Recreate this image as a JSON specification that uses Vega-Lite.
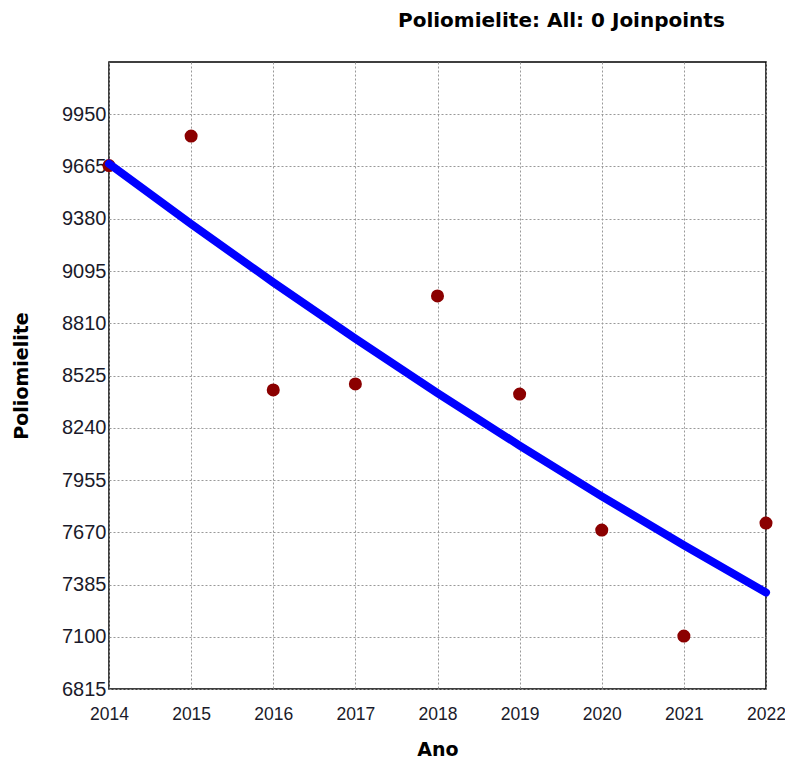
{
  "$schema": "https://vega.github.io/schema/vega-lite/v6.json",
  "autosize": "none",
  "width": 657,
  "height": 627,
  "padding": {"left": 109, "top": 62, "right": 19, "bottom": 73},
  "background": "white",
  "title": {
    "text": "Poliomielite: All: 0 Joinpoints",
    "font": "DejaVu Sans",
    "fontSize": 20,
    "fontWeight": "bold",
    "color": "#000000",
    "anchor": "start",
    "frame": "group",
    "dx": 289,
    "offset": 31
  },
  "config": {
    "view": {"stroke": "#000000", "strokeWidth": 1.5},
    "axis": {
      "labelFont": "Liberation Sans",
      "labelColor": "#1a1a2a",
      "titleFont": "DejaVu Sans",
      "titleFontSize": 19,
      "titleFontWeight": "bold",
      "titleColor": "#000000",
      "grid": true,
      "gridColor": "#999999",
      "gridDash": [2, 2],
      "gridWidth": 1,
      "domain": false,
      "ticks": false
    }
  },
  "datasets": {
    "obs": [
      {"ano": 2014, "valor": 9670},
      {"ano": 2015, "valor": 9831},
      {"ano": 2016, "valor": 8446},
      {"ano": 2017, "valor": 8479},
      {"ano": 2018, "valor": 8959},
      {"ano": 2019, "valor": 8424},
      {"ano": 2020, "valor": 7682},
      {"ano": 2021, "valor": 7104},
      {"ano": 2022, "valor": 7720}
    ],
    "fit": [
      {"ano": 2014, "valor": 9680},
      {"ano": 2015, "valor": 9351},
      {"ano": 2016, "valor": 9033},
      {"ano": 2017, "valor": 8726},
      {"ano": 2018, "valor": 8429},
      {"ano": 2019, "valor": 8143},
      {"ano": 2020, "valor": 7866},
      {"ano": 2021, "valor": 7599},
      {"ano": 2022, "valor": 7341}
    ]
  },
  "layer": [
    {
      "data": {"name": "obs"},
      "mark": {"type": "point", "filled": true, "size": 170, "color": "#8B0000", "opacity": 1},
      "encoding": {
        "x": {
          "field": "ano", "type": "quantitative",
          "scale": {"domain": [2014, 2022], "nice": false, "zero": false},
          "axis": {"title": "Ano", "values": [2014, 2015, 2016, 2017, 2018, 2019, 2020, 2021, 2022], "format": "d", "labelFontSize": 17.5, "labelPadding": 16, "titlePadding": 18, "labelFlush": false}
        },
        "y": {
          "field": "valor", "type": "quantitative",
          "scale": {"domain": [6815, 10235], "nice": false, "zero": false},
          "axis": {"title": "Poliomielite", "values": [6815, 7100, 7385, 7670, 7955, 8240, 8525, 8810, 9095, 9380, 9665, 9950], "format": "d", "labelFontSize": 20, "labelPadding": 3, "titlePadding": 30, "labelFlush": false}
        }
      }
    },
    {
      "data": {"name": "fit"},
      "mark": {"type": "line", "color": "#0000FF", "strokeWidth": 8, "strokeCap": "round"},
      "encoding": {
        "x": {"field": "ano", "type": "quantitative"},
        "y": {"field": "valor", "type": "quantitative"}
      }
    }
  ]
}
